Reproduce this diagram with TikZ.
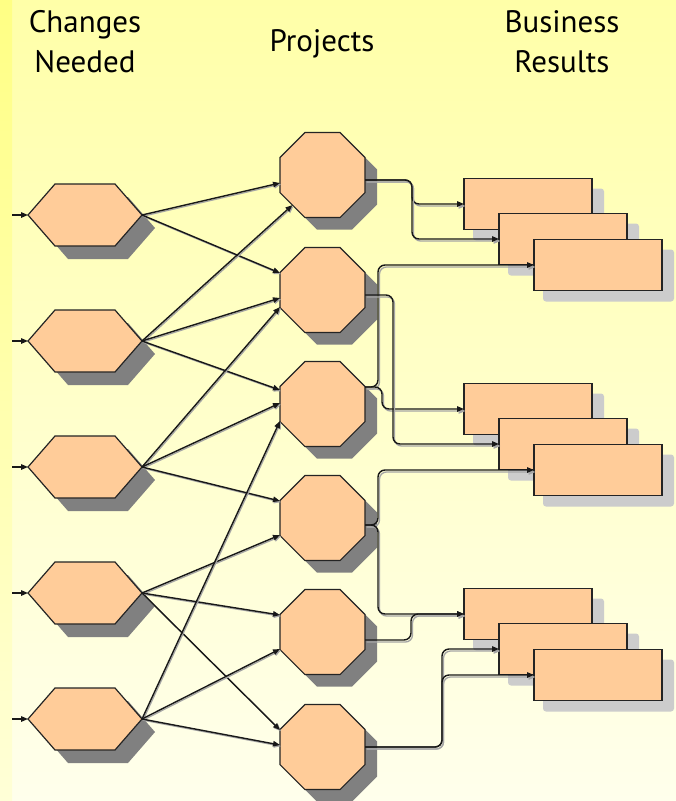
\documentclass[tikz,border=0pt]{standalone}
\usepackage{fontspec}
\setmainfont{PT Sans}
\usetikzlibrary{arrows.meta,calc,shapes.geometric,shadows}

\definecolor{bgtop}{RGB}{255,255,168}
\definecolor{bgbot}{RGB}{255,255,236}
\definecolor{striptop}{RGB}{255,255,132}
\definecolor{stripbot}{RGB}{255,255,215}
\definecolor{peach}{RGB}{255,204,153}
\definecolor{edge}{RGB}{36,36,36}
\definecolor{darkshade}{RGB}{128,128,128}
\definecolor{lightshade}{RGB}{204,204,204}
\definecolor{wire}{RGB}{24,24,24}
\definecolor{wireshade}{RGB}{165,165,165}

\tikzset{
  hexbox/.style={rectangle, minimum width=114pt, minimum height=62pt,
    inner sep=0pt, outer sep=0pt},
  hexface/.style={fill=peach, draw=edge, line width=1.2pt},
  octagon/.style={regular polygon, regular polygon sides=8, minimum size=92pt,
    inner sep=0pt, outer sep=0pt, fill=peach, draw=edge, line width=1.2pt,
    drop shadow={shadow xshift=12pt, shadow yshift=-12pt, fill=darkshade, opacity=1}},
  resultbox/.style={rectangle, minimum width=128pt, minimum height=51pt,
    inner sep=0pt, outer sep=0pt, fill=peach, draw=edge, line width=1.3pt},
  boxshadow/.style={fill=lightshade, rounded corners=3pt},
  feed/.style={draw=wire, line width=1.4pt, -{Triangle[length=7pt,width=5.5pt]},
    preaction={draw=wireshade, line width=1.2pt,
      transform canvas={xshift=1pt,yshift=-1.2pt}}},
  stub/.style={draw=wire, line width=1.4pt, -{Triangle[length=7pt,width=5.5pt]}},
  route/.style={draw=wire, line width=1.4pt, rounded corners=7pt,
    -{Triangle[length=7pt,width=5.5pt]},
    preaction={draw=wireshade, line width=1.3pt,
      transform canvas={xshift=1.5pt,yshift=-2pt}}},
  title/.style={font=\fontsize{31}{40}\selectfont, text=black, align=center},
}

% hexagon: invisible box node #1 centred at #2, with shadow and face
\newcommand\changehex[2]{%
  \node[hexbox] (#1) at (#2) {};
  \fill[darkshade] ($(#1.west)+(13,13)$) -- ($(#1.north west)+(40,13)$)
    -- ($(#1.north east)+(-14,13)$) -- ($(#1.east)+(13,13)$)
    -- ($(#1.south east)+(-14,13)$) -- ($(#1.south west)+(40,13)$) -- cycle;
  \draw[hexface] (#1.west) -- ($(#1.north west)+(27,0)$)
    -- ($(#1.north east)+(-27,0)$) -- (#1.east)
    -- ($(#1.south east)+(-27,0)$) -- ($(#1.south west)+(27,0)$) -- cycle;
}

% result box #1 centred at #2, drawn over its soft shadow
\newcommand\resultnode[2]{%
  \node[resultbox, fill=none, draw=none] (#1) at (#2) {};
  \fill[boxshadow] ($(#1.north west)+(9,10)$) rectangle ($(#1.south east)+(12,11)$);
  \node[resultbox] at (#1.center) {};
}

\begin{document}
\begin{tikzpicture}[x=1pt, y=-1pt]
  \useasboundingbox (0,0) rectangle (676,801);

  % background
  \shade[top color=bgtop, bottom color=bgbot] (0,0) rectangle (676,801);
  \shade[top color=striptop, bottom color=stripbot] (0,0) rectangle (12,801);

  % column headings
  \node[title] (hChanges) at (85,42) {Changes\\Needed};
  \node[title] (hProjects) at (322,44) {Projects};
  \node[title] (hResults) at (562,42) {Business\\Results};

  % changes needed
  \changehex{h1}{85,215}
  \changehex{h2}{85,341}
  \changehex{h3}{85,467}
  \changehex{h4}{85,593}
  \changehex{h5}{85,719}

  % projects
  \node[octagon] (o1) at (322.5,175) {};
  \node[octagon] (o2) at (322.5,290) {};
  \node[octagon] (o3) at (322.5,404) {};
  \node[octagon] (o4) at (322.5,518) {};
  \node[octagon] (o5) at (322.5,632) {};
  \node[octagon] (o6) at (322.5,747) {};

  % business results, three stacks of three
  \resultnode{g1a}{528,204}
  \resultnode{g1b}{563,239}
  \resultnode{g1c}{598,265}
  \resultnode{g2a}{528,409}
  \resultnode{g2b}{563,444}
  \resultnode{g2c}{598,470}
  \resultnode{g3a}{528,614}
  \resultnode{g3b}{563,649}
  \resultnode{g3c}{598,675}

  % incoming stubs
  \foreach \h in {h1,h2,h3,h4,h5}{
    \coordinate (in-\h) at ($(\h.west)+(-16,0)$);
    \draw[stub] (in-\h) -- (\h.west);
  }

  % changes -> projects
  \draw[feed] (h1.east) -- ($(o1.west)+(0,8)$);
  \draw[feed] (h1.east) -- ($(o2.west)+(0,-17)$);
  \draw[feed] (h2.east) -- (o1.225);
  \draw[feed] (h2.east) -- ($(o2.west)+(0,8)$);
  \draw[feed] (h2.east) -- ($(o3.west)+(0,-14)$);
  \draw[feed] (h3.east) -- ($(o2.west)+(0,17)$);
  \draw[feed] (h3.east) -- ($(o3.west)+(0,-1)$);
  \draw[feed] (h3.east) -- ($(o4.west)+(0,-17)$);
  \draw[feed] (h4.east) -- ($(o4.west)+(0,17)$);
  \draw[feed] (h4.east) -- ($(o5.west)+(0,-17)$);
  \draw[feed] (h4.east) -- ($(o6.west)+(0,-17)$);
  \draw[feed] (h5.east) -- ($(o3.west)+(0,17)$);
  \draw[feed] (h5.east) -- ($(o5.west)+(0,17)$);
  \draw[feed] (h5.east) -- ($(o6.west)+(0,-2)$);

  % projects -> business results
  \draw[route] ($(o1.east)+(0,5)$) -- ++(47,0) |- (g1a.west);
  \draw[route] ($(o1.east)+(0,5)$) -- ++(47,0) |- (g1b.west);
  \draw[route] ($(o3.east)+(0,-17)$) -- ++(13,0) |- (g1c.west);
  \draw[route] ($(o3.east)+(0,-17)$) -- ++(17,0) |- (g2a.west);
  \draw[route] ($(o2.east)+(0,5)$) -- ++(28,0) |- (g2b.west);
  \draw[route] ($(o4.east)+(0,7)$) -- ++(13,0) |- (g2c.west);
  \draw[route] ($(o4.east)+(0,7)$) -- ++(13,0) |- (g3a.west);
  \draw[route] ($(o5.east)+(0,8)$) -- ++(46,0) |- (g3a.west);
  \draw[route] (o6.east) -- ++(77,0) |- (g3b.west);
  \draw[route] (o6.east) -- ++(77,0) |- (g3c.west);
\end{tikzpicture}
\end{document}
